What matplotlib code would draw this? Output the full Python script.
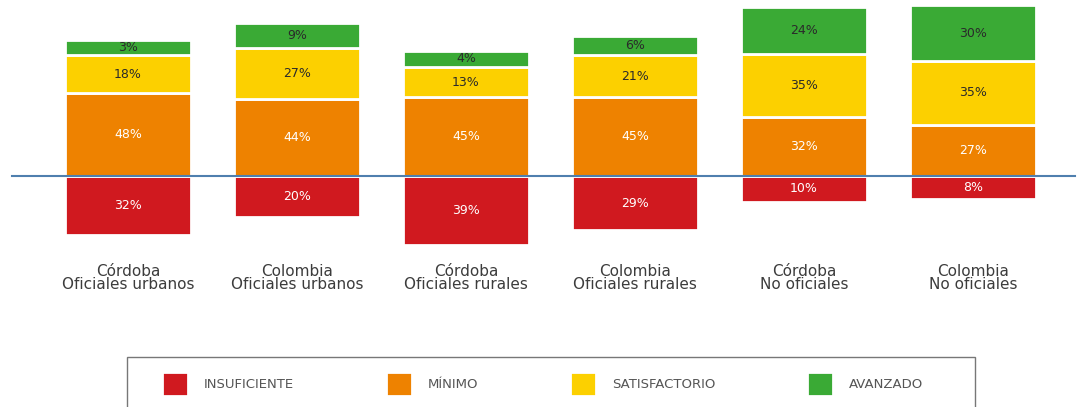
import matplotlib.pyplot as plt
from matplotlib.patches import Rectangle

grupos = ['Córdoba\nOficiales urbanos', 'Colombia\nOficiales urbanos',
          'Córdoba\nOficiales rurales', 'Colombia\nOficiales rurales',
          'Córdoba\nNo oficiales', 'Colombia\nNo oficiales']
insuficiente = [32, 20, 39, 29, 10, 8]
minimo = [48, 44, 45, 45, 32, 27]
satisfactorio = [18, 27, 13, 21, 35, 35]
avanzado = [3, 9, 4, 6, 24, 30]
niveles = ['INSUFICIENTE', 'MÍNIMO', 'SATISFACTORIO', 'AVANZADO']
colores = ['#d0191f', '#ee8200', '#fcd000', '#3aaa35']

W, H = 1085, 407
fig = plt.figure(figsize=(W / 100, H / 100), dpi=100)

# eje en pixeles: cero en y=176, 1.51 px por punto
k = 1.51
top_px, bot_px = 0, 300
ax = fig.add_axes([0, 1 - bot_px / H, 1, (bot_px - top_px) / H])
ax.set_xlim(-128 / 169, (W - 128) / 169)
ax.set_ylim(-(bot_px - 176) / k, 176 / k)
ax.axis('off')

pad = 7.0   # relleno minimo de cada segmento
ancho = 126 / 169
x = range(len(grupos))

handles = []
# insuficiente hacia abajo
b = ax.bar(x, [v + pad for v in insuficiente], bottom=[-(v + pad) for v in insuficiente],
           width=ancho, color=colores[0], edgecolor='white', linewidth=2)
handles.append(b)
for i, v in enumerate(insuficiente):
    ax.text(i, -(v + pad) / 2, f'{v}%', ha='center', va='center', color='white', fontsize=9)

base = [0] * len(grupos)
for serie, col, txt in [(minimo, colores[1], 'white'), (satisfactorio, colores[2], '#2a2a2a'),
                        (avanzado, colores[3], '#2a2a2a')]:
    alt = [v + pad for v in serie]
    b = ax.bar(x, alt, bottom=base, width=ancho, color=col, edgecolor='white', linewidth=2)
    handles.append(b)
    for i, v in enumerate(serie):
        ax.text(i, base[i] + alt[i] / 2, f'{v}%', ha='center', va='center', color=txt, fontsize=9)
    base = [base[i] + alt[i] for i in range(len(grupos))]

ax.plot([-0.686, 5.604], [0, 0], color='#4f7fae', linewidth=1.5, zorder=5)

for i, g in enumerate(grupos):
    ax.text(i, -(278 - 176) / k, g, ha='center', va='center', fontsize=11,
            color='#3c3c3c', linespacing=0.9)

# leyenda
fig.add_artist(Rectangle((127 / W, -0.1), 848 / W, 0.1 + (1 - 357 / H),
                         transform=fig.transFigure, fill=False, edgecolor='#777777', linewidth=1))
fig.legend(handles, niveles, loc='center left', ncol=4, mode='expand',
           bbox_to_anchor=(150 / W, 1 - 400 / H, 785 / W, 32 / H), frameon=False,
           handlelength=2.0, handleheight=2.4, handletextpad=1.2,
           prop={'family': ['Liberation Sans Narrow', 'DejaVu Sans'], 'size': 9.5},
           labelcolor='#555555')

fig.savefig('out.png', dpi=100)
